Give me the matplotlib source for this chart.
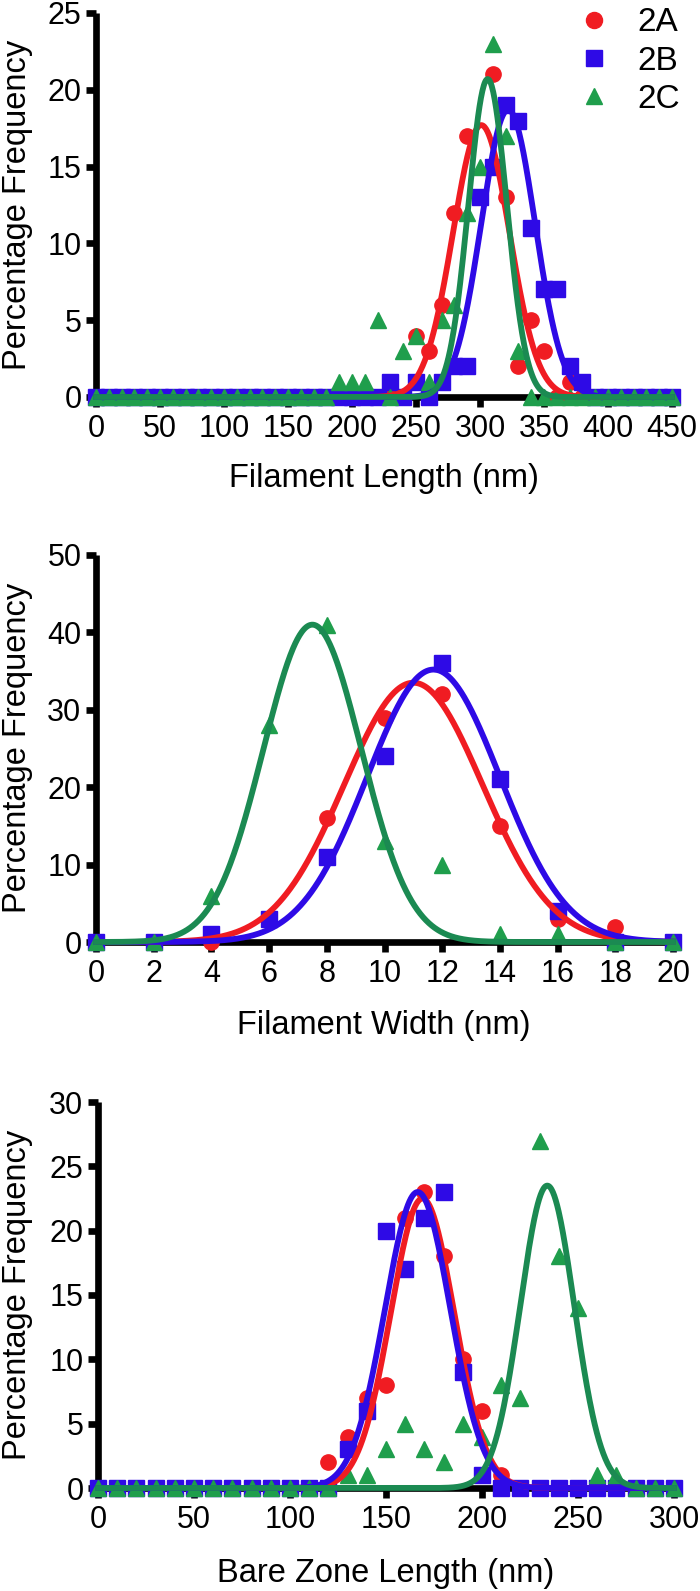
import numpy as np
import matplotlib
matplotlib.use("Agg")
import matplotlib.pyplot as plt

plt.rcParams['font.family'] = ['Liberation Sans', 'DejaVu Sans']

names = ['2A', '2B', '2C']
markers = ['o', 's', '^']
marker_colors = ['#f01c22', '#2e0ae6', '#1f9e4c']
line_colors = ['#f01c22', '#2e0ae6', '#1b8a52']

# filament length histogram (nm -> %), bins without entry are 0
len_bins = list(range(0, 451, 10))
len_2a = {250: 4, 260: 3, 270: 6, 280: 12, 290: 17, 300: 13, 310: 21, 320: 13,
          330: 2, 340: 5, 350: 3, 370: 1}
len_2b = {230: 1, 250: 1, 270: 1, 280: 2, 290: 2, 300: 13, 310: 15, 320: 19,
          330: 18, 340: 11, 350: 7, 360: 7, 370: 2, 380: 1}
len_2c = {190: 1, 200: 1, 210: 1, 220: 5, 240: 3, 250: 4, 260: 1, 270: 5,
          280: 6, 290: 12, 300: 15, 310: 23, 320: 17, 330: 3}
# gaussian fits: amplitude, mean, sd
len_fit = [(17.7, 301, 22), (18.7, 322, 21), (20.7, 306, 15)]

# filament width
wid_bins = [0, 2, 4, 6, 8, 10, 12, 14, 16, 18, 20]
wid_2a = [0, 0, 0, 3, 16, 29, 32, 15, 3, 2, 0]
wid_2b = [0, 0, 1, 3, 11, 24, 36, 21, 4, 0, 0]
wid_2c = [0, 0, 6, 28, 41, 13, 10, 1, 1, 0, 0]
wid_fit = [(33.5, 11.0, 2.4), (35.2, 11.7, 2.3), (41.0, 7.5, 1.7)]

# bare zone length
bz_bins = list(range(0, 301, 10))
bz_2a = {120: 2, 130: 4, 140: 7, 150: 8, 160: 21, 170: 23, 180: 18, 190: 10,
         200: 6, 210: 1}
bz_2b = {130: 3, 140: 6, 150: 20, 160: 17, 170: 21, 180: 23, 190: 9, 200: 1}
bz_2c = {130: 1, 140: 1, 150: 3, 160: 5, 170: 3, 180: 2, 190: 5, 200: 4,
         210: 8, 220: 7, 230: 27, 240: 18, 250: 14, 260: 1, 270: 1}
bz_fit = [(22.5, 169, 16.5), (23.0, 166.5, 17), (23.5, 234, 14)]


def gauss(x, amp, mu, sd):
    return amp * np.exp(-0.5 * ((x - mu) / sd) ** 2)


def draw_panel(ax, bins, series, fits, xmax, xstep, ymax, ystep):
    for vals, name, m, c in zip(series, names, markers, marker_colors):
        ax.plot(bins, vals, ls='none', marker=m, ms=11, color=c, mec=c,
                clip_on=False, zorder=3, label=name)
    xs = np.linspace(0, xmax, 800)
    for fit, c in zip(fits, line_colors):
        ax.plot(xs, gauss(xs, *fit), color=c, lw=4.2, clip_on=False, zorder=4)
    ax.set_xlim(0, xmax)
    ax.set_ylim(0, ymax)
    ax.set_xticks(np.arange(0, xmax + 1e-9, xstep))
    ax.set_yticks(np.arange(0, ymax + 1e-9, ystep))
    for s in ['top', 'right']:
        ax.spines[s].set_visible(False)
    for s in ['left', 'bottom']:
        ax.spines[s].set_linewidth(4.8)
        ax.spines[s].set_capstyle('butt')
    ax.tick_params(direction='out', length=7.5, width=4.8, labelsize=22)
    ax.tick_params(axis='x', pad=5)
    ax.tick_params(axis='y', pad=3)


fig = plt.figure(figsize=(7, 15.91), dpi=100)
H = 1591.0

ax1 = fig.add_axes([96 / 700, 1 - 397 / H, 576 / 700, 384 / H])
draw_panel(ax1, len_bins,
           [[d.get(b, 0) for b in len_bins] for d in (len_2a, len_2b, len_2c)],
           len_fit, 450, 50, 25, 5)

ax2 = fig.add_axes([96 / 700, 1 - 942 / H, 577 / 700, 387 / H])
draw_panel(ax2, wid_bins, [wid_2a, wid_2b, wid_2c], wid_fit, 20, 2, 50, 10)

ax3 = fig.add_axes([98 / 700, 1 - 1488 / H, 576 / 700, 386 / H])
draw_panel(ax3, bz_bins,
           [[d.get(b, 0) for b in bz_bins] for d in (bz_2a, bz_2b, bz_2c)],
           bz_fit, 300, 50, 30, 5)

# axis titles
for y_center, y_base, x_center, label in [(205, 487, 384, 'Filament Length (nm)'),
                                           (748, 1034, 384, 'Filament Width (nm)'),
                                           (1295, 1582, 386, 'Bare Zone Length (nm)')]:
    fig.text(17.5 / 700, 1 - y_center / H, 'Percentage Frequency', rotation=90,
             ha='center', va='center', fontsize=23.5)
    fig.text(x_center / 700, 1 - y_base / H, label, ha='center', va='baseline',
             fontsize=23.5)

ax1.legend(loc='upper left', bbox_to_anchor=((577 - 96) / 576, 1.015),
           frameon=False, fontsize=24, handlelength=1.0, handletextpad=0.8,
           labelspacing=0.22, borderpad=0, borderaxespad=0, markerscale=1.05)

fig.savefig('out.png', dpi=100)
